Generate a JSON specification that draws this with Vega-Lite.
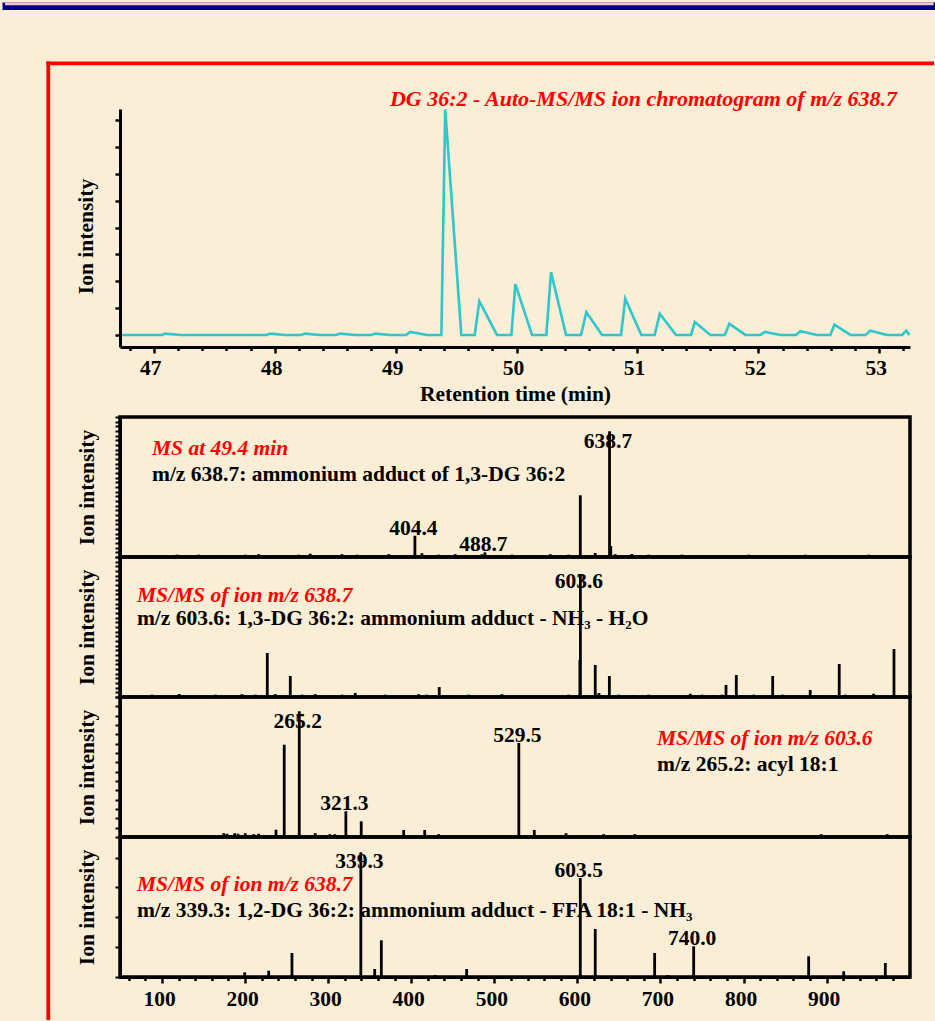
{
  "$schema": "https://vega.github.io/schema/vega-lite/v6.json",
  "background": "#FAEED6",
  "padding": 0,
  "autosize": {"type": "pad"},
  "bounds": "flush",
  "spacing": 0,
  "config": {
    "font": "Liberation Serif",
    "view": {"stroke": null},
    "axis": {
      "grid": false,
      "labelFont": "Liberation Serif", "labelFontSize": 21.5, "labelFontWeight": "bold", "labelColor": "black",
      "titleFont": "Liberation Serif", "titleFontSize": 21.5, "titleFontWeight": "bold", "titleColor": "black",
      "domainColor": "black", "domainWidth": 3, "tickColor": "black", "tickWidth": 2.5
    },
    "text": {"font": "Liberation Serif"}
  },
  "datasets": {
    "chrom": [
      {"t": 46.737, "v": 0}, {"t": 47.067, "v": 0}, {"t": 47.095, "v": 0.05}, {"t": 47.219, "v": 0},
      {"t": 47.928, "v": 0}, {"t": 47.963, "v": 0.05}, {"t": 48.085, "v": 0},
      {"t": 48.217, "v": 0}, {"t": 48.253, "v": 0.05}, {"t": 48.374, "v": 0},
      {"t": 48.507, "v": 0}, {"t": 48.542, "v": 0.05}, {"t": 48.664, "v": 0},
      {"t": 48.796, "v": 0}, {"t": 48.832, "v": 0.05}, {"t": 48.953, "v": 0},
      {"t": 49.086, "v": 0}, {"t": 49.121, "v": 0.11}, {"t": 49.259, "v": 0},
      {"t": 49.378, "v": 0}, {"t": 49.41, "v": 8.4}, {"t": 49.543, "v": 0},
      {"t": 49.654, "v": 0}, {"t": 49.692, "v": 1.26}, {"t": 49.838, "v": 0},
      {"t": 49.957, "v": 0}, {"t": 49.99, "v": 1.89}, {"t": 50.128, "v": 0},
      {"t": 50.246, "v": 0}, {"t": 50.285, "v": 2.34}, {"t": 50.409, "v": 0},
      {"t": 50.533, "v": 0}, {"t": 50.577, "v": 0.85}, {"t": 50.707, "v": 0},
      {"t": 50.864, "v": 0}, {"t": 50.899, "v": 1.35}, {"t": 51.032, "v": 0},
      {"t": 51.143, "v": 0}, {"t": 51.184, "v": 0.79}, {"t": 51.319, "v": 0},
      {"t": 51.443, "v": 0}, {"t": 51.474, "v": 0.48}, {"t": 51.603, "v": 0},
      {"t": 51.722, "v": 0}, {"t": 51.76, "v": 0.42}, {"t": 51.892, "v": 0},
      {"t": 52.016, "v": 0}, {"t": 52.053, "v": 0.11}, {"t": 52.182, "v": 0},
      {"t": 52.312, "v": 0}, {"t": 52.347, "v": 0.14}, {"t": 52.485, "v": 0},
      {"t": 52.595, "v": 0}, {"t": 52.629, "v": 0.38}, {"t": 52.761, "v": 0},
      {"t": 52.885, "v": 0}, {"t": 52.927, "v": 0.16}, {"t": 53.065, "v": 0},
      {"t": 53.188, "v": 0}, {"t": 53.222, "v": 0.16}, {"t": 53.25, "v": 0}
    ],
    "ms1": [
      {"mz": 404.4, "i": 22.8, "label": "404.4"},
      {"mz": 488.7, "i": 5.0, "label": "488.7"},
      {"mz": 603.5, "i": 66.1},
      {"mz": 638.7, "i": 134.7, "label": "638.7"},
      {"mz": 640.2, "i": 11.8},
      {"mz": 621.5, "i": 4.3},
      {"mz": 665.5, "i": 3.2},
      {"mz": 81.9, "i": 2}, {"mz": 91.9, "i": 1.5}, {"mz": 118.0, "i": 2.5}, {"mz": 127.2, "i": 2},
      {"mz": 144.1, "i": 2.5}, {"mz": 172.1, "i": 2}, {"mz": 200.2, "i": 2.5}, {"mz": 216.3, "i": 3},
      {"mz": 242.3, "i": 2}, {"mz": 264.5, "i": 2.5}, {"mz": 278.4, "i": 3.5}, {"mz": 300.6, "i": 2},
      {"mz": 316.6, "i": 3}, {"mz": 334.7, "i": 2.5}, {"mz": 352.7, "i": 2}, {"mz": 372.8, "i": 3},
      {"mz": 388.8, "i": 2}, {"mz": 412.9, "i": 4}, {"mz": 433.0, "i": 2.5}, {"mz": 453.0, "i": 3},
      {"mz": 465.0, "i": 2}, {"mz": 485.1, "i": 3}, {"mz": 509.2, "i": 2}, {"mz": 521.2, "i": 2.5},
      {"mz": 549.3, "i": 2}, {"mz": 567.4, "i": 3}, {"mz": 589.5, "i": 2.5}, {"mz": 645.6, "i": 3},
      {"mz": 661.7, "i": 2}, {"mz": 685.8, "i": 2.5}, {"mz": 701.8, "i": 2}, {"mz": 725.9, "i": 2.5},
      {"mz": 749.9, "i": 2}, {"mz": 774.0, "i": 2}, {"mz": 806.2, "i": 2.5}, {"mz": 826.2, "i": 2},
      {"mz": 850.3, "i": 2}, {"mz": 874.3, "i": 2.5}, {"mz": 902.5, "i": 2}, {"mz": 926.6, "i": 2},
      {"mz": 950.6, "i": 2.5}, {"mz": 974.7, "i": 2}, {"mz": 990.7, "i": 2}
    ],
    "ms2a": [
      {"mz": 120.7, "i": 3.2}, {"mz": 226.7, "i": 47.1}, {"mz": 254.4, "i": 22.5}, {"mz": 332.6, "i": 4.3},
      {"mz": 433.7, "i": 10.7}, {"mz": 603.0, "i": 39.6},
      {"mz": 603.6, "i": 130.7, "label": "603.6"},
      {"mz": 621.5, "i": 34.3}, {"mz": 626.0, "i": 4.3}, {"mz": 638.5, "i": 22.5}, {"mz": 778.9, "i": 12.9},
      {"mz": 791.3, "i": 23.6}, {"mz": 835.1, "i": 22.5}, {"mz": 880.3, "i": 7.5}, {"mz": 915.2, "i": 35.4},
      {"mz": 981.1, "i": 51.4},
      {"mz": 67.8, "i": 2}, {"mz": 87.9, "i": 2.5}, {"mz": 148.1, "i": 2}, {"mz": 164.1, "i": 2.5},
      {"mz": 184.2, "i": 2}, {"mz": 196.2, "i": 3}, {"mz": 212.2, "i": 2.5}, {"mz": 236.3, "i": 3},
      {"mz": 268.5, "i": 2.5}, {"mz": 284.5, "i": 3}, {"mz": 300.6, "i": 2}, {"mz": 316.6, "i": 2.5},
      {"mz": 348.7, "i": 2}, {"mz": 368.7, "i": 2.5}, {"mz": 380.8, "i": 2}, {"mz": 408.9, "i": 3},
      {"mz": 418.9, "i": 2.5}, {"mz": 449.0, "i": 2}, {"mz": 469.1, "i": 2.5}, {"mz": 489.1, "i": 2},
      {"mz": 509.2, "i": 3}, {"mz": 589.5, "i": 2.5}, {"mz": 629.6, "i": 2}, {"mz": 649.7, "i": 2.5},
      {"mz": 667.7, "i": 2}, {"mz": 685.8, "i": 2.5}, {"mz": 713.8, "i": 2}, {"mz": 735.9, "i": 3.5},
      {"mz": 749.9, "i": 2.5}, {"mz": 764.0, "i": 2}, {"mz": 774.0, "i": 2.5}, {"mz": 798.1, "i": 2},
      {"mz": 812.1, "i": 2.5}, {"mz": 846.9, "i": 2.5}, {"mz": 862.3, "i": 2}, {"mz": 894.6, "i": 2},
      {"mz": 922.6, "i": 2.5}, {"mz": 934.7, "i": 2}, {"mz": 956.6, "i": 3.5}, {"mz": 994.7, "i": 2}
    ],
    "ms2b": [
      {"mz": 174.2, "i": 4}, {"mz": 178.2, "i": 3.5}, {"mz": 187.4, "i": 4}, {"mz": 191.4, "i": 3.5},
      {"mz": 200.2, "i": 4}, {"mz": 210.3, "i": 3}, {"mz": 216.3, "i": 3.5}, {"mz": 237.2, "i": 7.8},
      {"mz": 247.1, "i": 98.9},
      {"mz": 265.2, "i": 134.7, "label": "265.2"},
      {"mz": 284.5, "i": 4}, {"mz": 302.0, "i": 3}, {"mz": 308.0, "i": 3},
      {"mz": 321.3, "i": 27.5, "label": "321.3"},
      {"mz": 339.8, "i": 16.8}, {"mz": 390.9, "i": 7.5}, {"mz": 416.2, "i": 7.5}, {"mz": 433.0, "i": 3},
      {"mz": 493.2, "i": 2}, {"mz": 507.0, "i": 2},
      {"mz": 529.5, "i": 100.7, "label": "529.5"},
      {"mz": 548.1, "i": 7.5}, {"mz": 586.3, "i": 4}, {"mz": 631.6, "i": 3}, {"mz": 669.0, "i": 3},
      {"mz": 893.6, "i": 3}, {"mz": 973.0, "i": 3}
    ],
    "ms2c": [
      {"mz": 199.5, "i": 5}, {"mz": 228.4, "i": 6.8}, {"mz": 256.4, "i": 25.7},
      {"mz": 339.3, "i": 133.6, "label": "339.3"},
      {"mz": 356.0, "i": 8.6}, {"mz": 364.0, "i": 39.3}, {"mz": 428.9, "i": 2}, {"mz": 466.7, "i": 8.6},
      {"mz": 603.5, "i": 106.1, "label": "603.5"},
      {"mz": 621.5, "i": 51.4}, {"mz": 693.0, "i": 25.7}, {"mz": 708.6, "i": 2},
      {"mz": 740.0, "i": 32.9, "label": "740.0"},
      {"mz": 878.4, "i": 22.2}, {"mz": 920.6, "i": 6.1}, {"mz": 970.7, "i": 15}
    ]
  },
  "vconcat": [
    {
      "width": 790,
      "height": 308,
      "view": {"stroke": null},
      "data": {"name": "chrom"},
      "mark": {"type": "line", "color": "#2FC7CC", "strokeWidth": 2.6},
      "encoding": {
        "x": {
          "field": "t", "type": "quantitative",
          "scale": {"domain": [46.72, 53.254], "nice": false, "zero": false},
          "axis": {
            "orient": "bottom", "offset": -70, "title": "Retention time (min)",
            "values": [46.8, 47, 47.2, 47.4, 47.6, 47.8, 48, 48.2, 48.4, 48.6, 48.8, 49, 49.2, 49.4, 49.6, 49.8, 50, 50.2, 50.4, 50.6, 50.8, 51, 51.2, 51.4, 51.6, 51.8, 52, 52.2, 52.4, 52.6, 52.8, 53, 53.2],
            "labelExpr": "abs(datum.value - round(datum.value)) < 0.01 ? format(datum.value, 'd') : ''",
            "tickSize": {"condition": {"test": "abs(datum.value - round(datum.value)) < 0.01", "value": 6}, "value": 3.5},
            "labelOffset": -3.5,
            "labelPadding": 4, "titlePadding": 5, "labelFlush": false, "labelOverlap": false, "labelBound": false
          }
        },
        "y": {
          "field": "v", "type": "quantitative",
          "scale": {"domain": [-0.45, 8.42], "range": [238, 0], "nice": false, "zero": false},
          "axis": {"orient": "left", "values": [0, 1, 2, 3, 4, 5, 6, 7, 8], "labels": false, "tickSize": 5, "title": "Ion intensity", "titlePadding": 16, "titleY": 127}
        }
      }
    },
    {
      "width": 790,
      "height": 140,
      "view": {"stroke": "black", "strokeWidth": 3.5},
      "data": {"name": "ms1"},
      "resolve": {"scale": {"y": "independent"}},
      "layer": [
        {
          "data": {"values": [{}]},
          "mark": {"type": "rect", "color": "#000080"},
          "encoding": {
            "x": {"datum": -92.045, "type": "quantitative", "scale": {"domain": [49.4, 1000.4], "nice": false, "zero": false}, "axis": null},
            "x2": {"datum": 1032.415},
            "y": {"datum": 594.107, "type": "quantitative", "scale": {"domain": [0, 150], "nice": false, "zero": false}, "axis": null},
            "y2": {"datum": 586.071}
          }
        },
        {
          "data": {"values": [{}]},
          "mark": {"type": "rect", "color": "#F5BFD2"},
          "encoding": {
            "x": {"datum": -89.036, "type": "quantitative", "scale": {"domain": [49.4, 1000.4], "nice": false, "zero": false}, "axis": null},
            "x2": {"datum": 1028.804},
            "y": {"datum": 594.107, "type": "quantitative", "scale": {"domain": [0, 150], "nice": false, "zero": false}, "axis": null},
            "y2": {"datum": 591.107}
          }
        },
        {
          "data": {"values": [{}]},
          "mark": {"type": "rule", "color": "#FF0000", "strokeWidth": 3.8},
          "encoding": {
            "x": {"datum": -36.912, "type": "quantitative", "scale": {"domain": [49.4, 1000.4], "nice": false, "zero": false}, "axis": null},
            "y": {"datum": 530.893, "type": "quantitative", "scale": {"domain": [0, 150], "nice": false, "zero": false}, "axis": null},
            "y2": {"datum": -496.071}
          }
        },
        {
          "data": {"values": [{}]},
          "mark": {"type": "rule", "color": "#FF0000", "strokeWidth": 3.8},
          "encoding": {
            "x": {"datum": -39.199, "type": "quantitative", "scale": {"domain": [49.4, 1000.4], "nice": false, "zero": false}, "axis": null},
            "x2": {"datum": 1029.285},
            "y": {"datum": 528.964, "type": "quantitative", "scale": {"domain": [0, 150], "nice": false, "zero": false}, "axis": null}
          }
        },
        {
          "data": {"values": [{}]},
          "mark": {"type": "text", "text": "DG 36:2 - Auto-MS/MS ion chromatogram of m/z 638.7", "align": "right", "baseline": "alphabetic", "fontSize": 22, "fontWeight": "bold", "fontStyle": "italic", "color": "#FF0000"},
          "encoding": {
            "x": {"datum": 984.745, "type": "quantitative", "scale": {"domain": [49.4, 1000.4], "nice": false, "zero": false}, "axis": null},
            "y": {"datum": 483.214, "type": "quantitative", "scale": {"domain": [0, 150], "nice": false, "zero": false}, "axis": null}
          }
        },
        {
          "data": {"values": [{}]},
          "mark": {"type": "text", "text": "MS at 49.4 min", "align": "left", "baseline": "alphabetic", "fontSize": 21.5, "fontWeight": "bold", "fontStyle": "italic", "color": "#FF0000"},
          "encoding": {
            "x": {"datum": 87.9, "type": "quantitative", "scale": {"domain": [49.4, 1000.4], "nice": false, "zero": false}, "axis": null},
            "y": {"datum": 109.3, "type": "quantitative", "scale": {"domain": [0, 150], "nice": false, "zero": false}, "axis": null}
          }
        },
        {
          "data": {"values": [{}]},
          "mark": {"type": "text", "text": "m/z 638.7: ammonium adduct of 1,3-DG 36:2", "align": "left", "baseline": "alphabetic", "fontSize": 21.5, "fontWeight": "bold", "color": "black"},
          "encoding": {
            "x": {"datum": 87.9, "type": "quantitative", "scale": {"domain": [49.4, 1000.4], "nice": false, "zero": false}, "axis": null},
            "y": {"datum": 81.4, "type": "quantitative", "scale": {"domain": [0, 150], "nice": false, "zero": false}, "axis": null}
          }
        },
        {
          "transform": [{"filter": "datum.label"}],
          "mark": {"type": "text", "align": "center", "baseline": "alphabetic", "dx": -1.5, "dy": -1, "fontSize": 21.5, "fontWeight": "bold", "color": "black"},
          "encoding": {
            "x": {"field": "mz", "type": "quantitative", "scale": {"domain": [49.4, 1000.4], "nice": false, "zero": false}, "axis": null},
            "y": {"field": "i", "type": "quantitative", "scale": {"domain": [0, 116], "range": [140, 31.73], "clamp": true, "nice": false, "zero": false}, "axis": null},
            "text": {"field": "label"}
          }
        },
        {
          "mark": {"type": "rule", "color": "black", "strokeWidth": 2.8},
          "encoding": {
            "x": {"field": "mz", "type": "quantitative", "scale": {"domain": [49.4, 1000.4], "nice": false, "zero": false}, "axis": null},
            "y": {
              "field": "i", "type": "quantitative",
              "scale": {"domain": [0, 150], "nice": false, "zero": false},
              "axis": {"orient": "left", "values": [0, 5, 10, 15, 20, 25, 30, 35, 40, 45, 50, 55, 60, 65, 70, 75, 80, 85, 90, 95, 100, 105, 110, 115, 120, 125, 130, 135, 140, 145, 150], "labels": false, "tickSize": 5, "tickWidth": 2, "title": "Ion intensity", "titlePadding": 16}
            },
            "y2": {"datum": 0}
          }
        }
      ]
    },
    {
      "width": 790,
      "height": 140,
      "view": {"stroke": "black", "strokeWidth": 3.5},
      "data": {"name": "ms2a"},
      "resolve": {"scale": {"y": "independent"}},
      "layer": [
        {
          "data": {"values": [{}]},
          "mark": {"type": "text", "text": "MS/MS of ion m/z 638.7", "align": "left", "baseline": "alphabetic", "fontSize": 21.5, "fontWeight": "bold", "fontStyle": "italic", "color": "#FF0000"},
          "encoding": {
            "x": {"datum": 69.8, "type": "quantitative", "scale": {"domain": [49.4, 1000.4], "nice": false, "zero": false}, "axis": null},
            "y": {"datum": 101.8, "type": "quantitative", "scale": {"domain": [0, 150], "nice": false, "zero": false}, "axis": null}
          }
        },
        {
          "data": {"values": [{}]},
          "mark": {"type": "text", "text": "m/z 603.6: 1,3-DG 36:2: ammonium adduct - NH₃ - H₂O", "align": "left", "baseline": "alphabetic", "fontSize": 21.5, "fontWeight": "bold", "color": "black"},
          "encoding": {
            "x": {"datum": 69.8, "type": "quantitative", "scale": {"domain": [49.4, 1000.4], "nice": false, "zero": false}, "axis": null},
            "y": {"datum": 76.8, "type": "quantitative", "scale": {"domain": [0, 150], "nice": false, "zero": false}, "axis": null}
          }
        },
        {
          "transform": [{"filter": "datum.label"}],
          "mark": {"type": "text", "align": "center", "baseline": "alphabetic", "dx": -1.5, "dy": -1, "fontSize": 21.5, "fontWeight": "bold", "color": "black"},
          "encoding": {
            "x": {"field": "mz", "type": "quantitative", "scale": {"domain": [49.4, 1000.4], "nice": false, "zero": false}, "axis": null},
            "y": {"field": "i", "type": "quantitative", "scale": {"domain": [0, 116], "range": [140, 31.73], "clamp": true, "nice": false, "zero": false}, "axis": null},
            "text": {"field": "label"}
          }
        },
        {
          "mark": {"type": "rule", "color": "black", "strokeWidth": 2.8},
          "encoding": {
            "x": {"field": "mz", "type": "quantitative", "scale": {"domain": [49.4, 1000.4], "nice": false, "zero": false}, "axis": null},
            "y": {
              "field": "i", "type": "quantitative",
              "scale": {"domain": [0, 150], "nice": false, "zero": false},
              "axis": {"orient": "left", "values": [0, 5, 10, 15, 20, 25, 30, 35, 40, 45, 50, 55, 60, 65, 70, 75, 80, 85, 90, 95, 100, 105, 110, 115, 120, 125, 130, 135, 140, 145, 150], "labels": false, "tickSize": 5, "tickWidth": 2, "title": "Ion intensity", "titlePadding": 16}
            },
            "y2": {"datum": 0}
          }
        }
      ]
    },
    {
      "width": 790,
      "height": 140,
      "view": {"stroke": "black", "strokeWidth": 3.5},
      "data": {"name": "ms2b"},
      "resolve": {"scale": {"y": "independent"}},
      "layer": [
        {
          "data": {"values": [{}]},
          "mark": {"type": "text", "text": "MS/MS of ion m/z 603.6", "align": "left", "baseline": "alphabetic", "fontSize": 21.5, "fontWeight": "bold", "fontStyle": "italic", "color": "#FF0000"},
          "encoding": {
            "x": {"datum": 695.8, "type": "quantitative", "scale": {"domain": [49.4, 1000.4], "nice": false, "zero": false}, "axis": null},
            "y": {"datum": 98.3, "type": "quantitative", "scale": {"domain": [0, 150], "nice": false, "zero": false}, "axis": null}
          }
        },
        {
          "data": {"values": [{}]},
          "mark": {"type": "text", "text": "m/z 265.2: acyl 18:1", "align": "left", "baseline": "alphabetic", "fontSize": 21.5, "fontWeight": "bold", "color": "black"},
          "encoding": {
            "x": {"datum": 695.8, "type": "quantitative", "scale": {"domain": [49.4, 1000.4], "nice": false, "zero": false}, "axis": null},
            "y": {"datum": 70.4, "type": "quantitative", "scale": {"domain": [0, 150], "nice": false, "zero": false}, "axis": null}
          }
        },
        {
          "transform": [{"filter": "datum.label"}],
          "mark": {"type": "text", "align": "center", "baseline": "alphabetic", "dx": -1.5, "dy": -1, "fontSize": 21.5, "fontWeight": "bold", "color": "black"},
          "encoding": {
            "x": {"field": "mz", "type": "quantitative", "scale": {"domain": [49.4, 1000.4], "nice": false, "zero": false}, "axis": null},
            "y": {"field": "i", "type": "quantitative", "scale": {"domain": [0, 116], "range": [140, 31.73], "clamp": true, "nice": false, "zero": false}, "axis": null},
            "text": {"field": "label"}
          }
        },
        {
          "mark": {"type": "rule", "color": "black", "strokeWidth": 2.8},
          "encoding": {
            "x": {"field": "mz", "type": "quantitative", "scale": {"domain": [49.4, 1000.4], "nice": false, "zero": false}, "axis": null},
            "y": {
              "field": "i", "type": "quantitative",
              "scale": {"domain": [0, 150], "nice": false, "zero": false},
              "axis": {"orient": "left", "values": [0, 10, 20, 30, 40, 50, 60, 70, 80, 90, 100, 110, 120, 130, 140, 150], "labels": false, "tickSize": 5, "tickWidth": 2, "title": "Ion intensity", "titlePadding": 16}
            },
            "y2": {"datum": 0}
          }
        }
      ]
    },
    {
      "width": 790,
      "height": 140,
      "view": {"stroke": "black", "strokeWidth": 3.5},
      "data": {"name": "ms2c"},
      "resolve": {"scale": {"x": "independent", "y": "independent"}},
      "layer": [
        {
          "data": {"values": [{}]},
          "mark": {"type": "text", "text": "MS/MS of ion m/z 638.7", "align": "left", "baseline": "alphabetic", "fontSize": 21.5, "fontWeight": "bold", "fontStyle": "italic", "color": "#FF0000"},
          "encoding": {
            "x": {"datum": 69.8, "type": "quantitative", "scale": {"domain": [49.4, 1000.4], "nice": false, "zero": false}, "axis": null},
            "y": {"datum": 91.8, "type": "quantitative", "scale": {"domain": [0, 150], "nice": false, "zero": false}, "axis": null}
          }
        },
        {
          "data": {"values": [{}]},
          "mark": {"type": "text", "text": "m/z 339.3: 1,2-DG 36:2: ammonium adduct - FFA 18:1 - NH₃", "align": "left", "baseline": "alphabetic", "fontSize": 21.5, "fontWeight": "bold", "color": "black"},
          "encoding": {
            "x": {"datum": 69.8, "type": "quantitative", "scale": {"domain": [49.4, 1000.4], "nice": false, "zero": false}, "axis": null},
            "y": {"datum": 64.3, "type": "quantitative", "scale": {"domain": [0, 150], "nice": false, "zero": false}, "axis": null}
          }
        },
        {
          "transform": [{"filter": "datum.label"}],
          "mark": {"type": "text", "align": "center", "baseline": "alphabetic", "dx": -1.5, "dy": -1, "fontSize": 21.5, "fontWeight": "bold", "color": "black"},
          "encoding": {
            "x": {"field": "mz", "type": "quantitative", "scale": {"domain": [49.4, 1000.4], "nice": false, "zero": false}, "axis": null},
            "y": {"field": "i", "type": "quantitative", "scale": {"domain": [0, 116], "range": [140, 31.73], "clamp": true, "nice": false, "zero": false}, "axis": null},
            "text": {"field": "label"}
          }
        },
        {
          "mark": {"type": "rule", "color": "black", "strokeWidth": 2.8},
          "encoding": {
            "x": {
              "field": "mz", "type": "quantitative",
              "scale": {"domain": [49.4, 1000.4], "nice": false, "zero": false},
              "axis": {
                "orient": "bottom", "title": null,
                "values": [60, 80, 100, 120, 140, 160, 180, 200, 220, 240, 260, 280, 300, 320, 340, 360, 380, 400, 420, 440, 460, 480, 500, 520, 540, 560, 580, 600, 620, 640, 660, 680, 700, 720, 740, 760, 780, 800, 820, 840, 860, 880, 900, 920, 940, 960, 980],
                "labelExpr": "datum.value % 100 === 0 ? format(datum.value, 'd') : ''",
                "tickSize": {"condition": {"test": "datum.value % 100 === 0", "value": 6}, "value": 3.5},
                "labelOffset": -3,
                "labelPadding": 5, "labelFlush": false, "labelOverlap": false, "labelBound": false
              }
            },
            "y": {
              "field": "i", "type": "quantitative",
              "scale": {"domain": [0, 150], "nice": false, "zero": false},
              "axis": {"orient": "left", "values": [0, 32, 64, 96, 128], "labels": false, "tickSize": 5, "tickWidth": 2, "title": "Ion intensity", "titlePadding": 16}
            },
            "y2": {"datum": 0}
          }
        }
      ]
    }
  ]
}
